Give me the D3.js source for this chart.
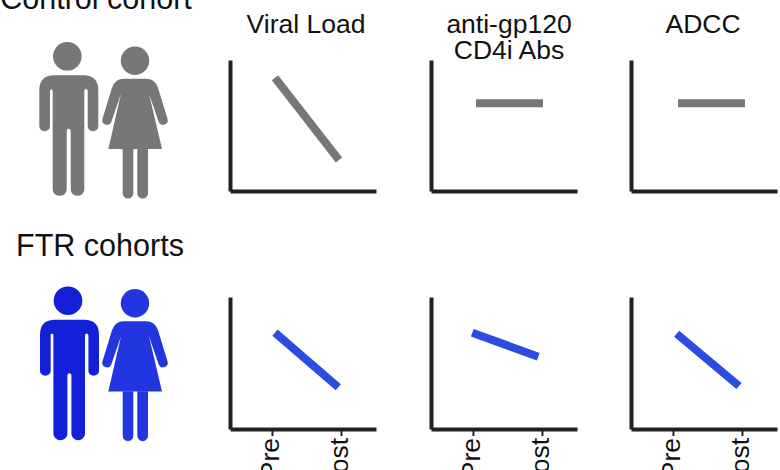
<!DOCTYPE html>
<html><head><meta charset="utf-8">
<script src="https://cdn.jsdelivr.net/npm/d3@7"></script>
<style>html,body{margin:0;padding:0;background:#fff}svg{display:block}text{font-family:"Liberation Sans",Arial,sans-serif;fill:#111}</style>
</head><body><div id="c"></div>
<script>
const timepoints = ["Pre","Post"];
const columnTitles = [["Viral Load"],["anti-gp120","CD4i Abs"],["ADCC"]];
const rowTitles = ["Control cohort","FTR cohorts"];
const controlValues = [[86.5,23.7],[67,67],[67,67]];
const ftrValues = [[73,31.6],[73,54.8],[72.2,32.6]];

const W=780,H=470, gray="#777777", blue="#2a4ce0", ink="#222222";
const svg=d3.select("#c").append("svg").attr("width",W).attr("height",H);
const panelX=[230,431,631], panelW=146;
const rows=[
 {values:controlValues,top:60,base:191,color:gray,ticks:false,inset:[[3,-2],[3,1],[5,3]]},
 {values:ftrValues,top:297,base:429,color:blue,ticks:true,inset:[[3,-2.7],[-0.7,-3.7],[3.7,-3]]}
];
const y=d3.scaleLinear().domain([0,100]);
rows.forEach(r=>{
  r.values.forEach((vals,i)=>{
    const g=svg.append("g").attr("transform",`translate(${panelX[i]},0)`);
    const x=d3.scalePoint().domain(timepoints).range([0,panelW]).padding(0.558).align(0.545);
    const ys=y.copy().range([r.base,r.top]);
    const xAxis=d3.axisBottom(x).tickSizeOuter(0).tickSizeInner(r.ticks?7:0).tickPadding(5);
    const ax=g.append("g").attr("transform",`translate(0,${r.base})`).call(xAxis);
    ax.select(".domain").attr("stroke",ink).attr("stroke-width",4);
    ax.selectAll(".tick line").attr("stroke",ink).attr("stroke-width",2);
    if(r.ticks){
      ax.selectAll(".tick text").attr("transform","rotate(-90)")
        .attr("text-anchor","end")
        .attr("x",-9).attr("y",7).attr("dy",0).style("font-size","26.5px").style("font-family",'"Liberation Sans"').attr("fill","#111");
    } else ax.selectAll(".tick text").remove();
    const yAxis=d3.axisLeft(ys).ticks(0).tickSizeOuter(0);
    const ay=g.append("g").call(yAxis);
    ay.select(".domain").attr("stroke",ink).attr("stroke-width",4);
    g.append("path").datum(vals)
      .attr("d",d3.line().x((d,k)=>x(timepoints[k])+r.inset[i][k]).y(d=>ys(d)))
      .attr("fill","none").attr("stroke",r.color).attr("stroke-width",8);
  });
});

// column titles
columnTitles.forEach((t,i)=>{
  const cx=[306,509,703][i];
  t.forEach((s,k)=>svg.append("text").attr("x",cx).attr("y",33+k*26).attr("text-anchor","middle").style("font-size","26.5px").text(s));
});
// row titles
svg.append("text").attr("x",96).attr("y",9).attr("text-anchor","middle").style("font-size","30.5px").text(rowTitles[0]);
svg.append("text").attr("x",100).attr("y",256).attr("text-anchor","middle").style("font-size","30.5px").text(rowTitles[1]);

// pictograms, in local units around the head centre
function man(g,c){
  g.append("circle").attr("r",14.3).attr("fill",c);
  g.append("path").attr("fill",c).attr("d",
   "M-13,19 H16 Q31,19 31,34 V70 A5.3,5 0 0 1 20.4,70 V34.5 A1.7,1.7 0 0 0 17,34.5"+
   "V133 A6.8,6.5 0 0 1 3.4,133 V74.5 A2,2 0 0 0 -0.6,74.5 V133 A7,6.5 0 0 1 -14.6,133 V34.5 A1.35,1.35 0 0 0 -17.3,34.5 V70 A5.35,5 0 0 1 -28,70 V34 Q-28,19 -13,19 Z");
}
function woman(g,c){
  g.append("circle").attr("r",14.2).attr("fill",c);
  g.append("path").attr("fill",c).attr("d",
   "M-11,18 H11 Q20,18 23,27 L32.5,58 A4.7,4.7 0 0 1 23.8,61.5 L14,33 L27,88.3 H-26.7 L-14,33 L-23.8,61.5 A4.7,4.7 0 0 1 -32.5,58 L-23,27 Q-20,18 -11,18 Z");
  g.append("path").attr("fill",c).attr("d",
   "M-12.3,88 H-1.7 V132.5 A5.3,5.3 0 0 1 -12.3,132.5 Z M2.3,88 H13 V132.5 A5.35,5.35 0 0 1 2.3,132.5 Z");
}
man(svg.append("g").attr("transform","translate(67.3,56.3)"),gray);
woman(svg.append("g").attr("transform","translate(135,60.7)"),gray);
man(svg.append("g").attr("transform","translate(68,300.7)"),"#1220d8");
woman(svg.append("g").attr("transform","translate(135,303.3)"),"#2236e0");
</script></body></html>
